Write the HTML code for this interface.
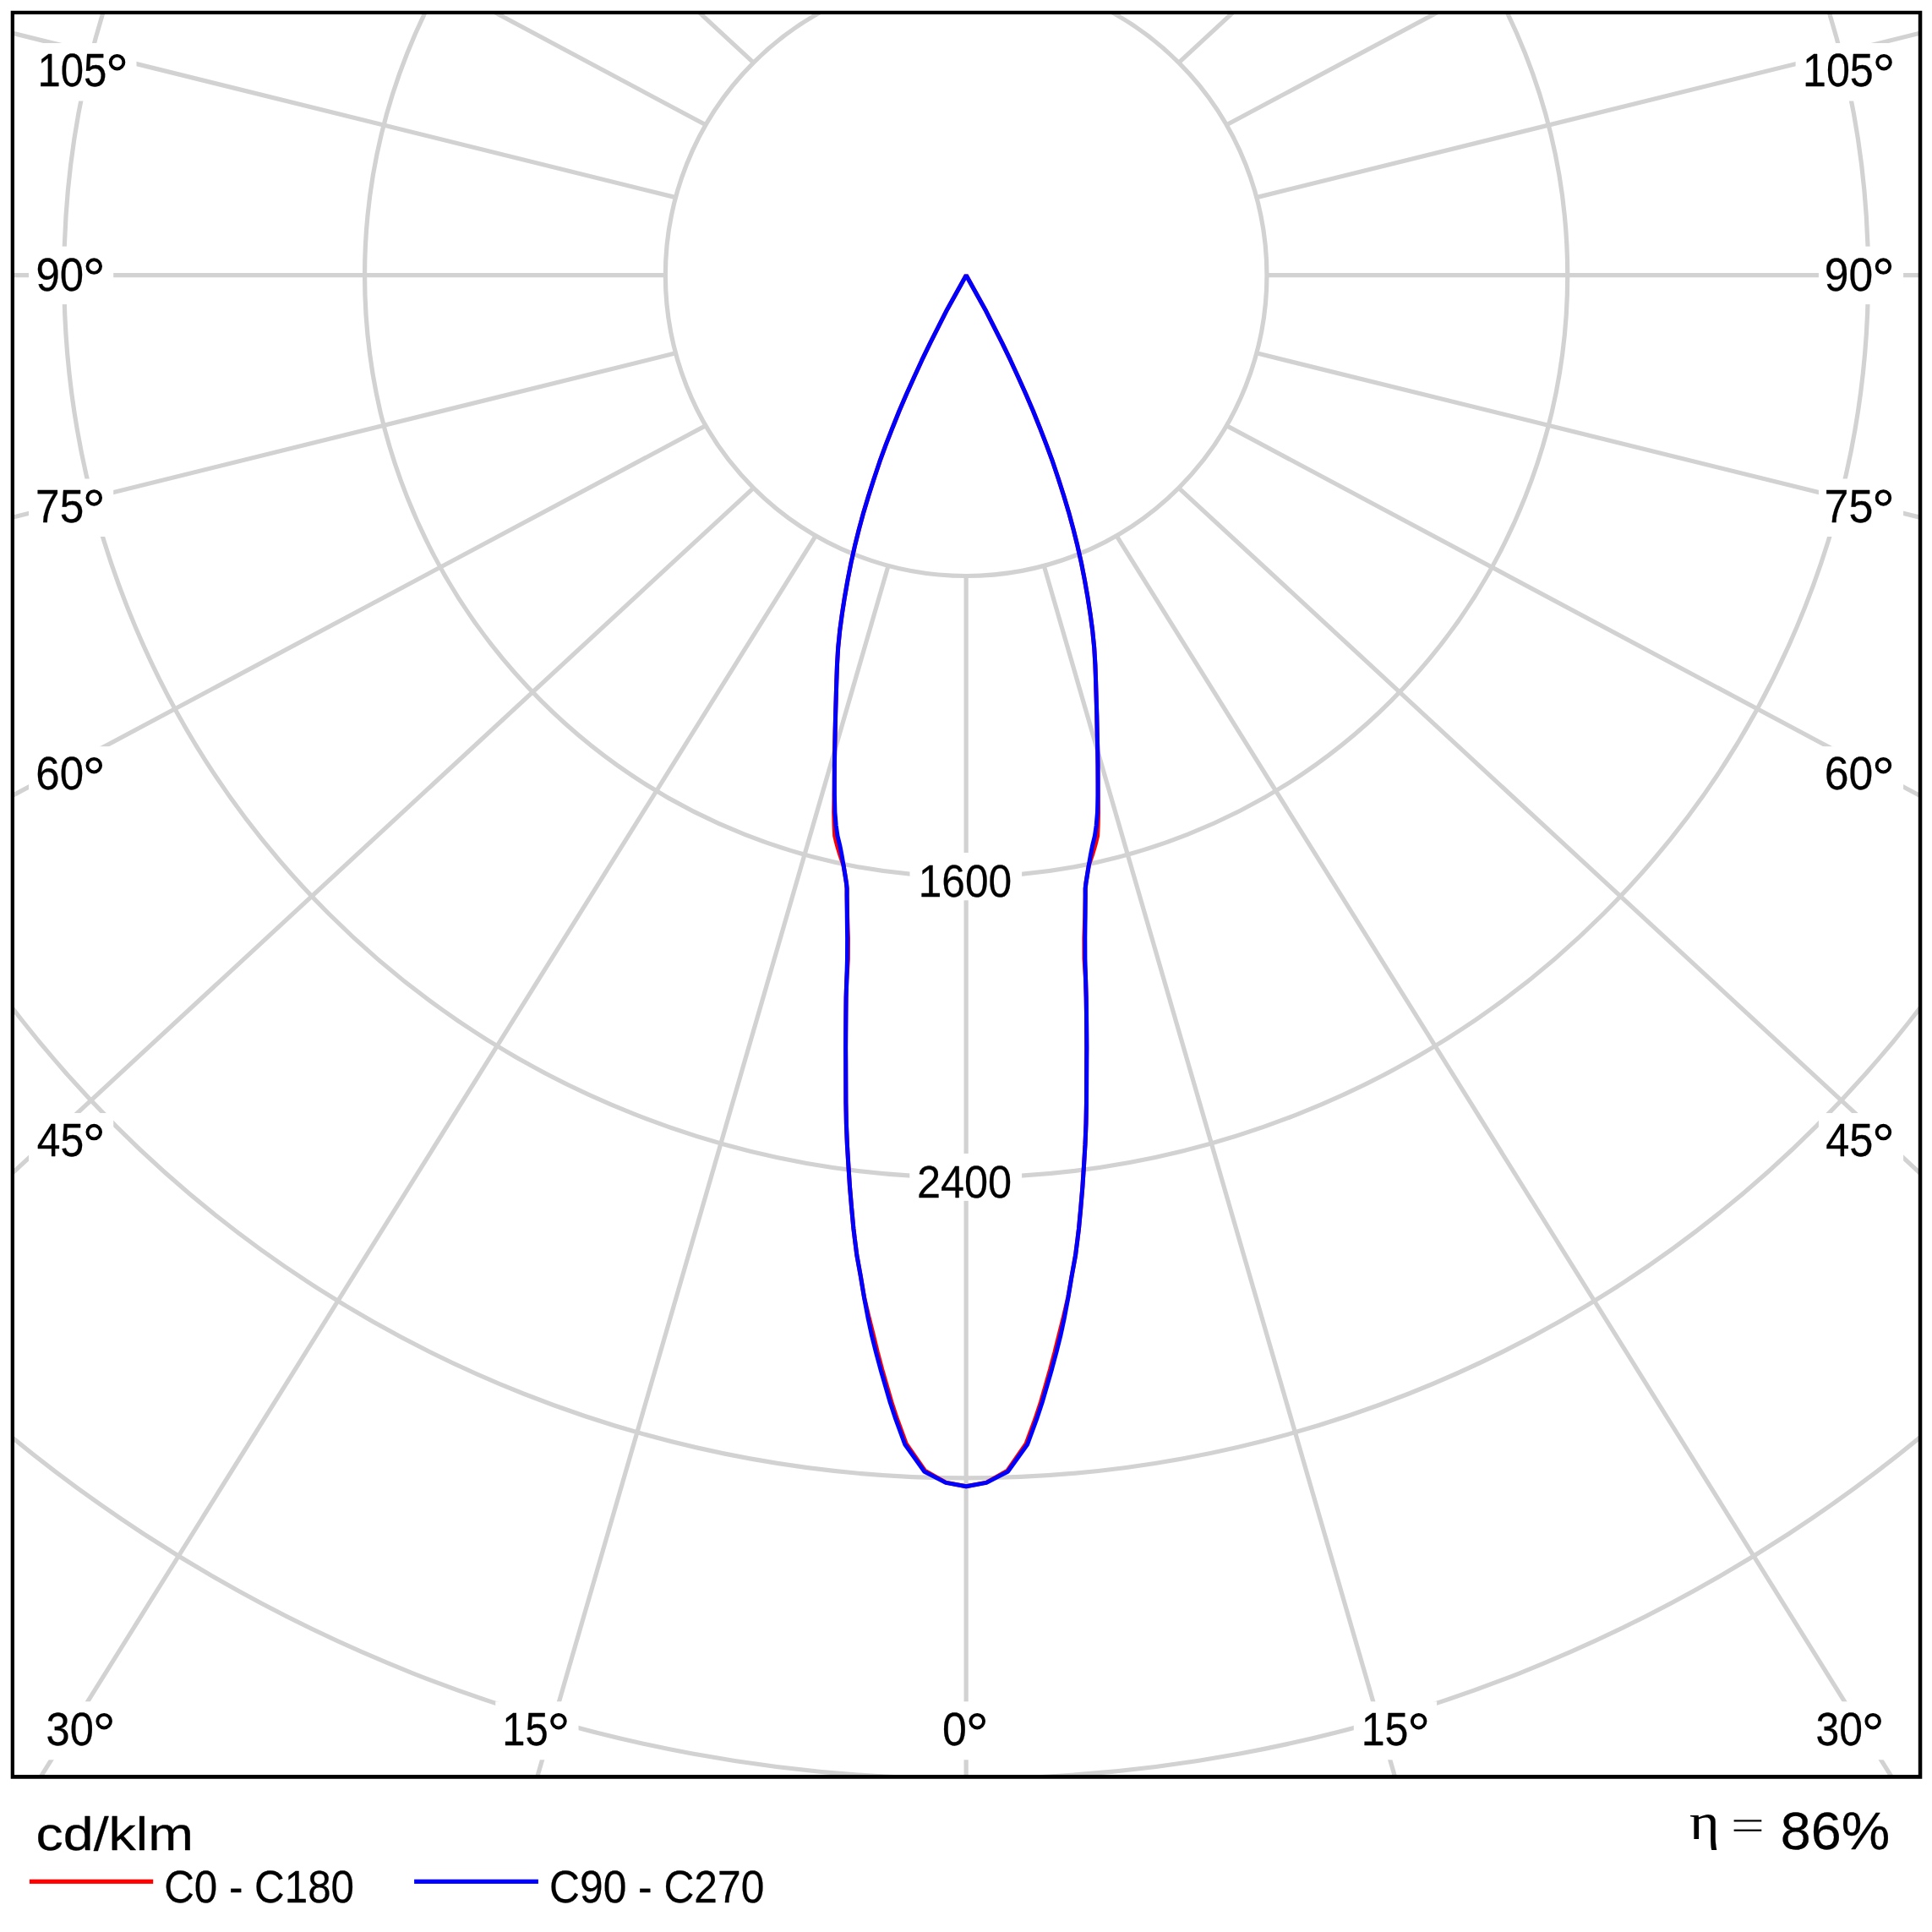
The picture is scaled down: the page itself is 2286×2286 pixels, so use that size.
<!DOCTYPE html>
<html><head><meta charset="utf-8"><title>Polar</title>
<style>html,body{margin:0;padding:0;background:#fff;}svg{display:block;}text{font-family:"Liberation Sans",sans-serif;fill:#000;stroke:#000;stroke-width:0.5;stroke-linejoin:round;}text.eta{stroke-width:0.3;}</style></head><body>
<svg width="2286" height="2286" viewBox="0 0 2286 2286">
<rect width="2286" height="2286" fill="#fff"/>
<defs><clipPath id="fr"><rect x="15.2" y="15.1" width="2256.75" height="2087.15"/></clipPath></defs>
<g clip-path="url(#fr)"><g fill="none" stroke="#d2d2d2" stroke-width="5.2">
<circle cx="1143.15" cy="325.7" r="355.8"/>
<circle cx="1143.15" cy="325.7" r="711.6"/>
<circle cx="1143.15" cy="325.7" r="1067.4"/>
<circle cx="1143.15" cy="325.7" r="1423.2"/>
<circle cx="1143.15" cy="325.7" r="1779.0"/>
<line x1="1143.15" y1="681.50" x2="1143.15" y2="4050.56"/>
<line x1="1235.24" y1="669.38" x2="2178.43" y2="3923.64"/>
<line x1="1051.06" y1="669.38" x2="107.87" y2="3923.64"/>
<line x1="1321.05" y1="633.83" x2="3143.15" y2="3551.53"/>
<line x1="965.25" y1="633.83" x2="-856.85" y2="3551.53"/>
<line x1="1394.74" y1="577.29" x2="3971.58" y2="2959.58"/>
<line x1="891.56" y1="577.29" x2="-1685.28" y2="2959.58"/>
<line x1="1451.28" y1="503.60" x2="4607.25" y2="2188.13"/>
<line x1="835.02" y1="503.60" x2="-2320.95" y2="2188.13"/>
<line x1="1486.83" y1="417.79" x2="5006.85" y2="1289.77"/>
<line x1="799.47" y1="417.79" x2="-2720.55" y2="1289.77"/>
<line x1="1498.95" y1="325.70" x2="5143.15" y2="325.70"/>
<line x1="787.35" y1="325.70" x2="-2856.85" y2="325.70"/>
<line x1="1486.83" y1="233.61" x2="5006.85" y2="-638.37"/>
<line x1="799.47" y1="233.61" x2="-2720.55" y2="-638.37"/>
<line x1="1451.28" y1="147.80" x2="4607.25" y2="-1536.73"/>
<line x1="835.02" y1="147.80" x2="-2320.95" y2="-1536.73"/>
<line x1="1394.74" y1="74.11" x2="3971.58" y2="-2308.18"/>
<line x1="891.56" y1="74.11" x2="-1685.28" y2="-2308.18"/>
<line x1="1321.05" y1="17.57" x2="3143.15" y2="-2900.13"/>
<line x1="965.25" y1="17.57" x2="-856.85" y2="-2900.13"/>
<line x1="1235.24" y1="-17.98" x2="2178.43" y2="-3272.24"/>
<line x1="1051.06" y1="-17.98" x2="107.87" y2="-3272.24"/>
<line x1="1143.15" y1="-30.10" x2="1143.15" y2="-3399.16"/>
</g>
<rect x="34.0" y="51.0" width="127.5" height="68.5" fill="#fff"/>
<text transform="translate(44.42,102.30) scale(0.4908,0.5469)" font-size="100.0">105</text>
<circle cx="138.55" cy="73.70" r="7.80" fill="none" stroke="#000" stroke-width="3.9"/>
<rect x="2124.6" y="51.0" width="127.5" height="68.5" fill="#fff"/>
<text transform="translate(2132.93,102.30) scale(0.5031,0.5469)" font-size="100.0">105</text>
<circle cx="2229.05" cy="73.70" r="7.80" fill="none" stroke="#000" stroke-width="3.9"/>
<rect x="34.0" y="291.6" width="100.2" height="68.5" fill="#fff"/>
<text transform="translate(42.38,343.70) scale(0.5093,0.5469)" font-size="100.0">90</text>
<circle cx="111.25" cy="315.10" r="7.80" fill="none" stroke="#000" stroke-width="3.9"/>
<rect x="2151.9" y="291.6" width="100.2" height="68.5" fill="#fff"/>
<text transform="translate(2158.85,343.70) scale(0.5161,0.5469)" font-size="100.0">90</text>
<circle cx="2228.45" cy="315.10" r="7.80" fill="none" stroke="#000" stroke-width="3.9"/>
<rect x="34.0" y="566.5" width="100.2" height="68.5" fill="#fff"/>
<text transform="translate(42.11,617.50) scale(0.5130,0.5469)" font-size="100.0">75</text>
<circle cx="111.25" cy="588.90" r="7.80" fill="none" stroke="#000" stroke-width="3.9"/>
<rect x="2151.9" y="566.5" width="100.2" height="68.5" fill="#fff"/>
<text transform="translate(2158.57,617.50) scale(0.5199,0.5469)" font-size="100.0">75</text>
<circle cx="2228.45" cy="588.90" r="7.80" fill="none" stroke="#000" stroke-width="3.9"/>
<rect x="34.0" y="883.2" width="100.2" height="68.5" fill="#fff"/>
<text transform="translate(42.25,934.30) scale(0.5105,0.5469)" font-size="100.0">60</text>
<circle cx="111.25" cy="905.70" r="7.80" fill="none" stroke="#000" stroke-width="3.9"/>
<rect x="2151.9" y="883.2" width="100.2" height="68.5" fill="#fff"/>
<text transform="translate(2158.71,934.30) scale(0.5174,0.5469)" font-size="100.0">60</text>
<circle cx="2228.45" cy="905.70" r="7.80" fill="none" stroke="#000" stroke-width="3.9"/>
<rect x="34.0" y="1317.0" width="100.2" height="68.5" fill="#fff"/>
<text transform="translate(43.68,1368.20) scale(0.4983,0.5469)" font-size="100.0">45</text>
<circle cx="111.25" cy="1339.60" r="7.80" fill="none" stroke="#000" stroke-width="3.9"/>
<rect x="2151.9" y="1317.0" width="100.2" height="68.5" fill="#fff"/>
<text transform="translate(2160.16,1368.20) scale(0.5050,0.5469)" font-size="100.0">45</text>
<circle cx="2228.45" cy="1339.60" r="7.80" fill="none" stroke="#000" stroke-width="3.9"/>
<rect x="45.2" y="2013.3" width="101.0" height="69.0" fill="#fff"/>
<text transform="translate(54.60,2065.30) scale(0.5063,0.5469)" font-size="100.0">30</text>
<circle cx="123.15" cy="2036.70" r="7.80" fill="none" stroke="#000" stroke-width="3.9"/>
<rect x="586.2" y="2013.3" width="98.3" height="69.0" fill="#fff"/>
<text transform="translate(594.33,2065.30) scale(0.4894,0.5469)" font-size="100.0">15</text>
<circle cx="660.95" cy="2036.70" r="7.80" fill="none" stroke="#000" stroke-width="3.9"/>
<rect x="1106.5" y="2013.3" width="73.5" height="69.0" fill="#fff"/>
<text transform="translate(1115.12,2065.30) scale(0.5194,0.5469)" font-size="100.0">0</text>
<circle cx="1156.25" cy="2036.70" r="7.80" fill="none" stroke="#000" stroke-width="3.9"/>
<rect x="1601.8" y="2013.3" width="98.3" height="69.0" fill="#fff"/>
<text transform="translate(1610.74,2065.30) scale(0.5015,0.5469)" font-size="100.0">15</text>
<circle cx="1678.65" cy="2036.70" r="7.80" fill="none" stroke="#000" stroke-width="3.9"/>
<rect x="2140.5" y="2013.3" width="101.0" height="69.0" fill="#fff"/>
<text transform="translate(2148.43,2065.30) scale(0.4986,0.5469)" font-size="100.0">30</text>
<circle cx="2216.15" cy="2036.70" r="7.80" fill="none" stroke="#000" stroke-width="3.9"/>
<rect x="1076.5" y="1008.9" width="132.6" height="56.4" fill="#fff"/>
<text transform="translate(1086.67,1060.80) scale(0.4967,0.5440)" font-size="100.0">1600</text>
<rect x="1076.3" y="1364.9" width="132.8" height="56.0" fill="#fff"/>
<text transform="translate(1084.98,1416.60) scale(0.5044,0.5440)" font-size="100.0">2400</text>
<path d="M1143.2,325.7 L1165.7,366.2 L1175.8,386.2 L1185.9,406.2 L1195.6,426.2 L1204.8,446.2 L1213.8,466.2 L1222.4,486.2 L1230.4,506.2 L1238.1,526.2 L1245.5,546.2 L1252.2,566.2 L1258.6,586.2 L1264.6,606.2 L1270.0,626.2 L1275.0,646.2 L1279.5,666.2 L1283.4,686.2 L1286.9,706.2 L1290.0,726.2 L1292.7,746.2 L1294.7,766.2 L1295.9,786.2 L1296.6,806.2 L1297.2,826.2 L1297.8,846.2 L1298.2,866.2 L1298.7,886.2 L1299.0,906.2 L1299.1,926.2 L1299.3,940.7 L1299.6,961.3 L1299.2,976.8 L1298.6,989.2 L1295.9,1000.1 L1292.4,1011.7 L1288.4,1023.4 L1286.5,1035.0 L1284.9,1045.1 L1284.2,1051.3 L1284.2,1060.2 L1283.7,1085.0 L1282.9,1109.9 L1283.0,1134.7 L1284.6,1159.6 L1285.2,1180.2 L1285.5,1199.0 L1285.7,1223.8 L1285.8,1240.2 L1285.7,1255.0 L1285.6,1279.9 L1285.5,1304.7 L1285.0,1329.6 L1284.0,1354.4 L1282.5,1379.3 L1280.9,1404.1 L1278.8,1429.0 L1276.5,1453.8 L1275.1,1465.2 L1272.6,1485.0 L1268.1,1509.9 L1263.8,1534.7 L1257.9,1560.2 L1252.9,1580.2 L1247.9,1600.2 L1242.6,1620.2 L1237.2,1639.2 L1231.4,1659.2 L1224.8,1679.2 L1214.1,1708.1 L1191.9,1740.1 L1167.2,1754.1 L1143.2,1758.7 L1119.1,1754.1 L1094.5,1740.1 L1072.2,1708.1 L1061.6,1679.2 L1055.0,1659.2 L1049.2,1639.2 L1043.7,1620.2 L1038.4,1600.2 L1033.5,1580.2 L1028.5,1560.2 L1022.5,1534.7 L1018.3,1509.9 L1013.8,1485.0 L1011.3,1465.2 L1009.9,1453.8 L1007.6,1429.0 L1005.5,1404.1 L1003.9,1379.3 L1002.4,1354.4 L1001.4,1329.6 L1000.9,1304.7 L1000.8,1279.9 L1000.7,1255.0 L1000.6,1240.2 L1000.7,1223.8 L1000.9,1199.0 L1001.1,1180.2 L1001.8,1159.6 L1003.4,1134.7 L1003.5,1109.9 L1002.6,1085.0 L1002.1,1060.2 L1002.1,1051.3 L1001.5,1045.1 L999.9,1035.0 L997.9,1023.4 L993.9,1011.7 L990.4,1000.1 L987.7,989.2 L987.1,976.8 L986.7,961.3 L987.0,940.7 L987.3,926.2 L987.4,906.2 L987.7,886.2 L988.1,866.2 L988.6,846.2 L989.2,826.2 L989.8,806.2 L990.5,786.2 L991.7,766.2 L993.7,746.2 L996.4,726.2 L999.5,706.2 L1003.0,686.2 L1006.9,666.2 L1011.4,646.2 L1016.4,626.2 L1021.8,606.2 L1027.8,586.2 L1034.2,566.2 L1040.9,546.2 L1048.2,526.2 L1056.0,506.2 L1064.0,486.2 L1072.6,466.2 L1081.6,446.2 L1090.8,426.2 L1100.5,406.2 L1110.6,386.2 L1120.7,366.2 L1143.2,325.7 Z" fill="none" stroke="#ff0000" stroke-width="5" stroke-linejoin="bevel"/>
<path d="M1143.2,325.7 L1165.7,366.2 L1175.8,386.2 L1185.9,406.2 L1195.6,426.2 L1204.8,446.2 L1213.8,466.2 L1222.4,486.2 L1230.4,506.2 L1238.1,526.2 L1245.5,546.2 L1252.2,566.2 L1258.6,586.2 L1264.6,606.2 L1270.0,626.2 L1275.0,646.2 L1279.5,666.2 L1283.4,686.2 L1286.9,706.2 L1290.0,726.2 L1292.7,746.2 L1294.7,766.2 L1295.9,786.2 L1296.6,806.2 L1297.2,826.2 L1297.8,846.2 L1298.2,866.2 L1298.7,886.2 L1299.0,906.2 L1299.1,926.2 L1299.0,940.7 L1298.5,961.3 L1297.2,976.8 L1295.4,989.2 L1292.7,1000.1 L1290.4,1011.7 L1288.4,1023.4 L1286.5,1035.0 L1284.9,1045.1 L1284.2,1051.3 L1284.2,1060.2 L1284.1,1085.0 L1283.8,1109.9 L1283.9,1134.7 L1284.6,1159.6 L1285.2,1180.2 L1285.5,1199.0 L1285.7,1223.8 L1285.8,1240.2 L1285.7,1255.0 L1285.6,1279.9 L1285.5,1304.7 L1285.0,1329.6 L1284.0,1354.4 L1282.5,1379.3 L1280.9,1404.1 L1278.8,1429.0 L1276.5,1453.8 L1275.1,1465.2 L1272.6,1485.0 L1268.1,1509.9 L1264.0,1534.7 L1259.2,1560.2 L1254.9,1580.2 L1249.9,1600.2 L1244.5,1620.2 L1239.0,1639.2 L1233.2,1659.2 L1226.6,1679.2 L1215.7,1709.0 L1192.5,1741.3 L1167.2,1754.4 L1143.2,1758.7 L1119.1,1754.4 L1093.8,1741.3 L1070.7,1709.0 L1059.8,1679.2 L1053.2,1659.2 L1047.4,1639.2 L1041.9,1620.2 L1036.5,1600.2 L1031.5,1580.2 L1027.2,1560.2 L1022.4,1534.7 L1018.3,1509.9 L1013.8,1485.0 L1011.3,1465.2 L1009.9,1453.8 L1007.6,1429.0 L1005.5,1404.1 L1003.9,1379.3 L1002.4,1354.4 L1001.4,1329.6 L1000.9,1304.7 L1000.8,1279.9 L1000.7,1255.0 L1000.6,1240.2 L1000.7,1223.8 L1000.9,1199.0 L1001.1,1180.2 L1001.8,1159.6 L1002.5,1134.7 L1002.6,1109.9 L1002.3,1085.0 L1002.1,1060.2 L1002.1,1051.3 L1001.5,1045.1 L999.9,1035.0 L998.0,1023.4 L996.0,1011.7 L993.7,1000.1 L991.0,989.2 L989.2,976.8 L987.9,961.3 L987.4,940.7 L987.3,926.2 L987.4,906.2 L987.7,886.2 L988.1,866.2 L988.6,846.2 L989.2,826.2 L989.8,806.2 L990.5,786.2 L991.7,766.2 L993.7,746.2 L996.4,726.2 L999.5,706.2 L1003.0,686.2 L1006.9,666.2 L1011.4,646.2 L1016.4,626.2 L1021.8,606.2 L1027.8,586.2 L1034.2,566.2 L1040.9,546.2 L1048.2,526.2 L1056.0,506.2 L1064.0,486.2 L1072.6,466.2 L1081.6,446.2 L1090.8,426.2 L1100.5,406.2 L1110.6,386.2 L1120.7,366.2 L1143.2,325.7 Z" fill="none" stroke="#0000ff" stroke-width="5" stroke-linejoin="bevel"/>
</g>
<path fill="#000" fill-rule="evenodd" d="M12.7,12.85 H2274.3 V2104.7 H12.7 Z M17.0,17.0 V2099.9 H2269.8 V17.0 Z"/>
<rect x="34.9" y="2223.7" width="146.3" height="5.2" fill="#ff0000"/>
<rect x="490.1" y="2223.7" width="146.8" height="5.2" fill="#0000ff"/>
<text transform="translate(42.56,2188.80) scale(0.6450,0.5614)" font-size="100.0">cd/klm</text>
<text transform="translate(194.23,2251.10) scale(0.4933,0.5382)" font-size="100.0">C0 - C180</text>
<text transform="translate(650.11,2251.10) scale(0.4971,0.5382)" font-size="100.0">C90 - C270</text>
<text transform="translate(2106.85,2188.40) scale(0.6460,0.6371)" font-size="100.0">86%</text>
<text class="eta" transform="translate(1998.88,2176.00) scale(0.6813,0.6170)" font-size="100.0" style="font-family:'Liberation Serif',serif">η</text>
<rect x="2051.6" y="2153.3" width="32.7" height="2.2" fill="#000"/>
<rect x="2051.6" y="2164.6" width="32.7" height="2.2" fill="#000"/>
</svg></body></html>
